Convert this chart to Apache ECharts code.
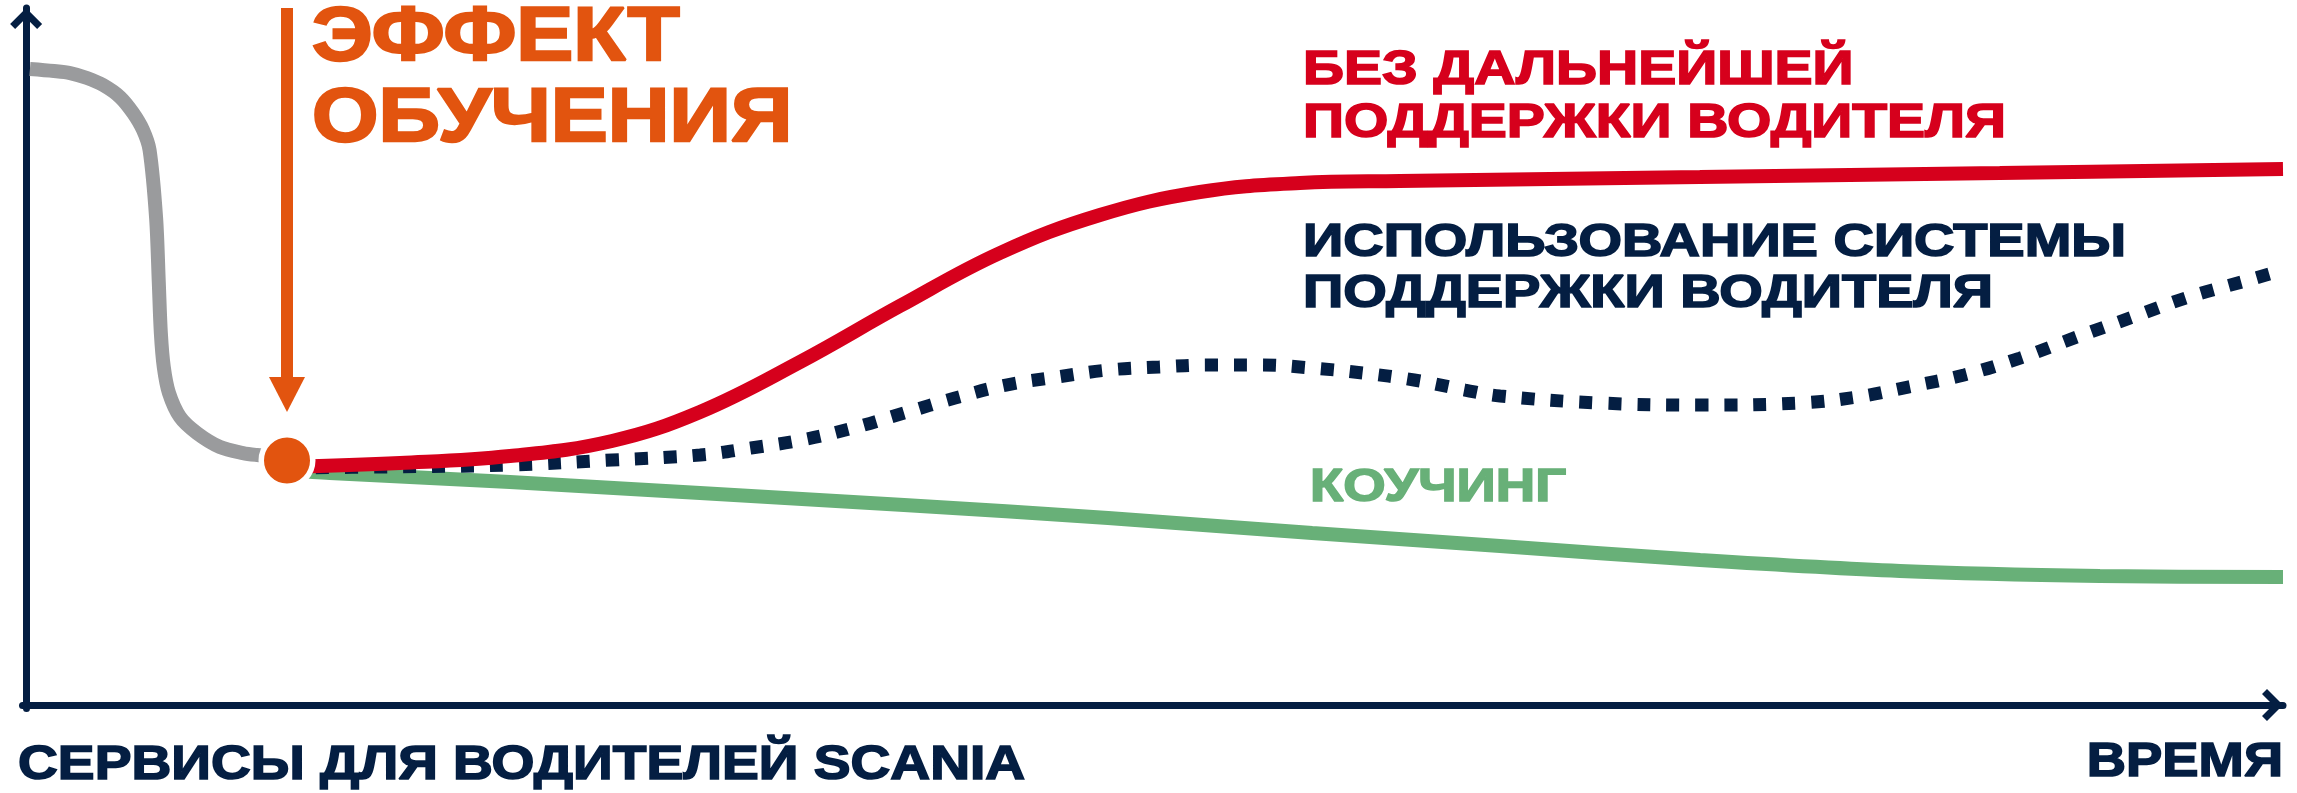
<!DOCTYPE html>
<html>
<head>
<meta charset="utf-8">
<script src="https://cdn.jsdelivr.net/npm/echarts@6.0.0/dist/echarts.min.js"></script>
<style>
  html, body { margin: 0; padding: 0; background: #ffffff; }
  #chart { width: 2297px; height: 793px; }
</style>
</head>
<body>
<div id="chart"></div>
<script>
// ---------------- DATA (time 0..100, level 0..100) ----------------
const grayTime  = [0.17, 1.23, 1.95, 2.70, 3.41, 4.16, 4.74, 5.18, 5.47, 5.76, 5.88, 5.97, 6.10, 6.33, 6.82, 7.57, 8.59, 9.61, 10.23, 11.56];
const grayLevel = [91.25, 90.96, 90.67, 89.96, 88.95, 87.23, 84.94, 82.50, 79.63, 69.87, 60.55, 53.37, 48.49, 44.76, 41.32, 39.02, 37.02, 36.15, 35.87, 35.44];

const redTime  = [11.56, 16.57, 21.44, 25.96, 29.86, 34.29, 38.72, 43.15, 47.58, 52.01, 56.44, 60.87, 74.16, 87.45, 100];
const redLevel = [34.15, 34.72, 35.72, 37.88, 42.04, 49.21, 57.25, 64.85, 70.30, 73.60, 74.89, 75.18, 75.75, 76.33, 76.90];

const navyTime  = [11.56, 15.82, 21.44, 25.96, 29.86, 32.12, 34.38, 36.64, 38.90, 41.16, 43.42, 45.68, 47.94, 50.20, 52.46, 54.72, 56.98, 59.24, 61.50, 63.76, 65.31, 69.74, 74.17, 78.60, 81.13, 83.38, 85.87, 88.35, 90.87, 93.35, 95.83, 98.32, 100];
const navyLevel = [34.00, 34.15, 34.43, 35.15, 35.87, 36.87, 38.02, 39.74, 41.89, 44.05, 45.91, 47.06, 48.06, 48.49, 48.78, 48.78, 48.35, 47.63, 46.63, 45.19, 44.33, 43.33, 43.04, 43.33, 44.19, 45.62, 47.35, 49.78, 52.80, 55.67, 58.54, 60.83, 62.41];

const greenTime  = [11.56, 13.46, 21.44, 29.86, 38.90, 47.94, 56.98, 65.31, 74.17, 83.03, 91.89, 100];
const greenLevel = [33.72, 33.29, 31.99, 30.42, 28.69, 26.83, 24.68, 22.81, 20.80, 19.23, 18.51, 18.36];

const learningPoint = [11.56, 35.08];
const learningArrowTop = 100;
const learningArrowEnd = 44.55;

const seriesNames = ['Без дальнейшей поддержки водителя', 'Использование системы поддержки водителя', 'Коучинг', 'Эффект обучения', 'До обучения'];

// ---------------- TEXTS ----------------
const effectLines = ['ЭФФЕКТ', 'ОБУЧЕНИЯ'];
const redLines = ['БЕЗ ДАЛЬНЕЙШЕЙ', 'ПОДДЕРЖКИ ВОДИТЕЛЯ'];
const navyLines = ['ИСПОЛЬЗОВАНИЕ СИСТЕМЫ', 'ПОДДЕРЖКИ ВОДИТЕЛЯ'];
const greenLines = ['КОУЧИНГ'];
const yAxisTitle = ['СЕРВИСЫ ДЛЯ ВОДИТЕЛЕЙ SCANIA'];
const xAxisTitle = ['ВРЕМЯ'];

// ---------------- STYLE ----------------
const NAVY = '#041E42', RED = '#D6001C', GREEN = '#68B078', GRAY = '#9A9B9D', ORANGE = '#E2540F';
const FAMILY = '"Liberation Sans", Arial, sans-serif';
const CAP = 0.716;
const CHEVRON = 'path://M17,0 L33,16 L28,21 L17,10 L6,21 L1,16 Z';

const zip = (xs, ys) => xs.map((x, i) => [x, ys[i]]);

const mctx = document.createElement('canvas').getContext('2d');
function textBlock(lines, color, anchorX, capCenter, capH, lineH, targetW, align, weightStroke) {
  const size = capH / CAP;
  const font = 'bold ' + size.toFixed(2) + 'px ' + FAMILY;
  mctx.font = font;
  const w = Math.max.apply(null, lines.map(l => mctx.measureText(l).width));
  const s = targetW / (w + weightStroke);
  return {
    type: 'text',
    x: anchorX,
    y: capCenter - lineH / 2,
    scaleX: s,
    scaleY: 1,
    originX: 0,
    originY: 0,
    z: 100,
    silent: true,
    style: {
      text: lines.join('\n'),
      font: font,
      fill: color,
      stroke: color,
      lineWidth: weightStroke,
      lineHeight: lineH,
      align: align, textAlign: align,
      verticalAlign: 'top', textVerticalAlign: 'top'
    }
  };
}

const layout = {
  effect: [312, 38.5, 55, 81, 483, 2.4],
  red:    [1303, 71, 34, 53, 705, 1.6],
  navy:   [1303, 243.5, 33, 51, 825, 1.6],
  green:  [1310, 488.5, 33, 40, 258, 1.6],
  yTitle: [18, 765.5, 35, 45, 1009, 1.6],
  xTitle: [2283, 762.5, 35, 45, 198, 1.6]
};
const block = (lines, color, l, align) => textBlock(lines, color, l[0], l[1], l[2], l[3], l[4], align, l[5]);

const axisLine = {
  show: true,
  onZero: true,
  symbol: ['none', CHEVRON],
  symbolSize: [33, 21],
  symbolOffset: [0, -10.5],
  lineStyle: { color: NAVY, width: 7 }
};

const chart = echarts.init(document.getElementById('chart'), null, { renderer: 'canvas' });
chart.setOption({
  backgroundColor: '#ffffff',
  animation: false,
  grid: { left: 22.5, right: 14, top: 8, bottom: 84.5, containLabel: false },
  xAxis: {
    type: 'value', min: -0.16, max: 100,
    axisLine: axisLine,
    axisTick: { show: false }, axisLabel: { show: false }, splitLine: { show: false }
  },
  yAxis: {
    type: 'value', min: -0.5, max: 100,
    axisLine: axisLine,
    axisTick: { show: false }, axisLabel: { show: false }, splitLine: { show: false }
  },
  series: [
    {
      type: 'line', name: seriesNames[4], data: zip(grayTime, grayLevel),
      smooth: 0.3, showSymbol: false, symbol: 'none', z: 2,
      lineStyle: { color: GRAY, width: 14 }
    },
    {
      type: 'line', name: seriesNames[2], data: zip(greenTime, greenLevel),
      smooth: 0.3, showSymbol: false, symbol: 'none', z: 2,
      lineStyle: { color: GREEN, width: 14 }
    },
    {
      type: 'line', name: seriesNames[1], data: zip(navyTime, navyLevel),
      smooth: 0.4, showSymbol: false, symbol: 'none', z: 3,
      lineStyle: { color: NAVY, width: 13, type: [13, 16], cap: 'butt' }
    },
    {
      type: 'line', name: seriesNames[0], data: zip(redTime, redLevel),
      smooth: 0.4, showSymbol: false, symbol: 'none', z: 4,
      lineStyle: { color: RED, width: 14 }
    },
    {
      type: 'scatter', name: seriesNames[3], data: [learningPoint],
      symbolSize: 51.5, z: 6,
      itemStyle: { color: ORANGE, borderColor: '#ffffff', borderWidth: 5.5, opacity: 1 },
      markLine: {
        silent: true, animation: false,
        symbol: ['none', 'triangle'], symbolSize: [36, 35],
        label: { show: false },
        lineStyle: { color: ORANGE, width: 12, type: 'solid', opacity: 1 },
        data: [[
          { coord: [learningPoint[0], learningArrowTop] },
          { coord: [learningPoint[0], learningArrowEnd] }
        ]]
      }
    }
  ],
  graphic: [
    block(effectLines, ORANGE, layout.effect, 'left'),
    block(redLines, RED, layout.red, 'left'),
    block(navyLines, NAVY, layout.navy, 'left'),
    block(greenLines, GREEN, layout.green, 'left'),
    block(yAxisTitle, NAVY, layout.yTitle, 'left'),
    block(xAxisTitle, NAVY, layout.xTitle, 'right')
  ]
});
</script>
</body>
</html>
